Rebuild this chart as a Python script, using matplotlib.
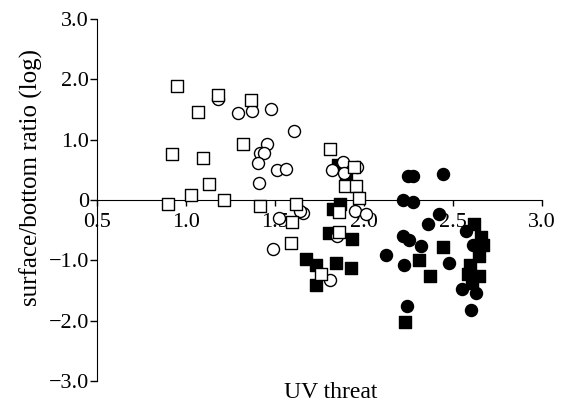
import matplotlib
matplotlib.use("Agg")
import matplotlib.pyplot as plt

plt.rcParams['font.family'] = ['Liberation Serif', 'DejaVu Serif']

# open squares
osq_x = [0.946, 1.176, 1.064, 1.362, 0.918, 1.094, 1.319, 1.128, 1.025, 0.899, 1.213, 1.416, 1.618,
         1.596, 1.588, 1.808, 1.942, 1.892, 1.953, 1.968, 1.858, 1.858, 1.755]
osq_y = [1.89, 1.74, 1.46, 1.66, 0.77, 0.70, 0.93, 0.27, 0.08, -0.07, 0.00, -0.10, -0.07,
         -0.36, -0.72, 0.85, 0.54, 0.23, 0.24, 0.04, -0.20, -0.53, -1.22]

# open circles
oci_x = [1.176, 1.289, 1.371, 1.476, 1.605, 1.456, 1.412, 1.438, 1.403, 1.508, 1.560, 1.408,
         1.523, 1.657, 1.639, 1.485, 1.817, 1.882, 1.888, 1.957, 1.948, 2.008, 1.848, 1.807]
oci_y = [1.67, 1.45, 1.48, 1.51, 1.14, 0.93, 0.78, 0.78, 0.62, 0.50, 0.51, 0.29,
         -0.29, -0.21, -0.19, -0.81, 0.49, 0.63, 0.44, 0.54, -0.19, -0.24, -0.60, -1.32]

# filled squares
fsq_x = [1.671, 1.727, 1.727, 1.854, 1.897, 1.864, 1.822, 1.802, 1.933, 1.841, 1.925,
         2.444, 2.309, 2.369, 2.230, 2.618, 2.654, 2.665, 2.646, 2.594, 2.584, 2.644, 2.603]
fsq_y = [-0.98, -1.08, -1.41, 0.58, 0.41, -0.07, -0.15, -0.54, -0.64, -1.05, -1.13,
         -0.78, -0.99, -1.26, -2.02, -0.39, -0.61, -0.75, -0.92, -1.08, -1.22, -1.26, -1.38]

# filled circles
fci_x = [2.244, 2.275, 2.444, 2.219, 2.272, 2.421, 2.360, 2.220, 2.251, 2.318, 2.120, 2.225,
         2.476, 2.238, 2.598, 2.571, 2.613, 2.547, 2.626]
fci_y = [0.39, 0.39, 0.43, 0.00, -0.04, -0.24, -0.40, -0.59, -0.66, -0.77, -0.91, -1.07,
         -1.05, -1.75, -1.82, -0.51, -0.74, -1.48, -1.54]

xticks = [0.5, 1.0, 1.5, 2.0, 2.5, 3.0]
yticks = [3.0, 2.0, 1.0, 0.0, -1.0, -2.0, -3.0]
ytick_labels = ["3.0", "2.0", "1.0", "0", "\u22121.0", "\u22122.0", "\u22123.0"]

fig = plt.figure(figsize=(5.64, 4.05), dpi=100)
ax = fig.add_axes([0.1725, 0.0593, 0.789, 0.8937])

ms = 75
ax.scatter(fci_x, fci_y, s=ms, marker='o', color='black', zorder=3)
ax.scatter(fsq_x, fsq_y, s=ms + 10, marker='s', color='black', zorder=3)
ax.scatter(oci_x, oci_y, s=ms, marker='o', facecolor='white', edgecolor='black', linewidth=1.0, zorder=4)
ax.scatter(osq_x, osq_y, s=ms, marker='s', facecolor='white', edgecolor='black', linewidth=1.0, zorder=5)

ax.set_xlim(0.5, 3.0)
ax.set_ylim(-3.0, 3.0)
ax.spines['top'].set_visible(False)
ax.spines['right'].set_visible(False)
ax.spines['bottom'].set_position(('data', 0))
ax.spines['bottom'].set_zorder(2)
ax.set_xticks(xticks)
ax.set_xticklabels([f"{v:.1f}" for v in xticks])
ax.set_yticks(yticks)
ax.set_yticklabels(ytick_labels)
ax.tick_params(axis='x', direction='out', length=4, width=1, labelsize=16, pad=5)
ax.tick_params(axis='y', direction='out', length=5, width=1, labelsize=16, pad=1)

fig.text(331 / 564, 1 - 393 / 405, "UV threat", ha='center', va='center', fontsize=17)
fig.text(31 / 564, 1 - 177 / 405, "surface/bottom ratio (log)", rotation=90,
         ha='center', va='center', fontsize=18)

fig.savefig("out.png", dpi=100)
